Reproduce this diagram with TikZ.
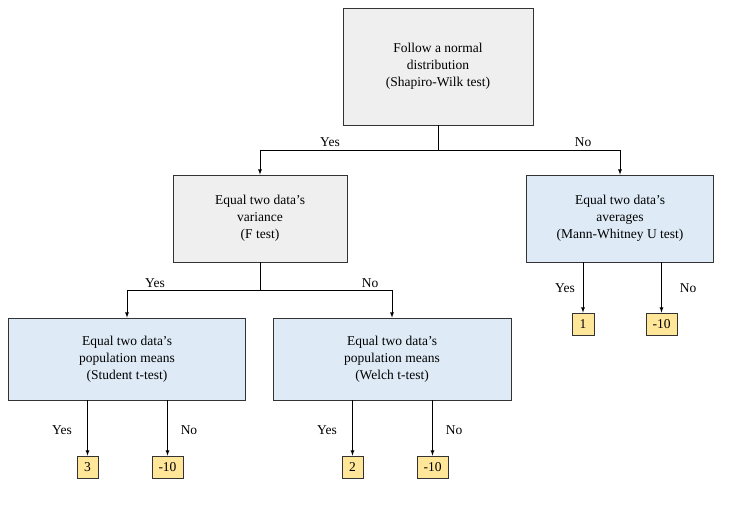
\documentclass[tikz,border=0pt]{standalone}
\usepackage{fontspec}
\setmainfont{Liberation Serif}
\definecolor{bfill}{HTML}{DEEBF7}
\definecolor{gfill}{HTML}{EFEFEF}
\definecolor{yfill}{HTML}{FFE699}
\begin{document}
\begin{tikzpicture}[x=1pt,y=-1pt,
  box/.style={draw=black!80,line width=0.8pt,align=center,font=\fontsize{13.5}{17}\selectfont,inner sep=0pt},
  gbox/.style={box,fill=gfill},
  bbox/.style={box,fill=bfill},
  ybox/.style={draw=black!80,line width=0.8pt,fill=yfill,font=\fontsize{13.5}{15}\selectfont,minimum height=22pt,inner sep=0pt},
  lab/.style={font=\fontsize{13.5}{15}\selectfont},
  arr/.style={-latex,line width=0.8pt},
  ln/.style={line width=0.8pt}]
\useasboundingbox (0,0) rectangle (744,505);
\node[gbox,minimum width=190pt,minimum height=117pt] (top) at (438,66.5) {Follow a normal\\distribution\\(Shapiro-Wilk test)};
\node[gbox,minimum width=174pt,minimum height=87pt] (f) at (260,218.5) {Equal two data's\\variance\\(F test)};
\node[bbox,minimum width=187pt,minimum height=87pt] (mw) at (620,218.5) {Equal two data's\\averages\\(Mann-Whitney U test)};
\node[bbox,minimum width=237pt,minimum height=82pt] (st) at (127,359) {Equal two data's\\population means\\(Student t-test)};
\node[bbox,minimum width=238pt,minimum height=82pt] (wt) at (392,359) {Equal two data's\\population means\\(Welch t-test)};
\coordinate (j1) at (438,150);
\coordinate (j2) at (260,290);
\draw[ln] (top.south) -- (j1);
\draw[arr] (j1) -| (f.north);
\draw[arr] (j1) -| (mw.north);
\node[lab] (y1) at (330,142) {Yes};
\node[lab] (n1) at (583,142) {No};
\draw[ln] (f.south) -- (j2);
\draw[arr] (j2) -| (st.north);
\draw[arr] (j2) -| (wt.north);
\node[lab] (y2) at (155,283) {Yes};
\node[lab] (n2) at (370,283) {No};
\node[ybox,minimum width=21pt] (a3) at (87.5,467) {3};
\node[ybox,minimum width=31pt] (a10) at (167.5,467) {-10};
\node[ybox,minimum width=21pt] (b2) at (352.5,467) {2};
\node[ybox,minimum width=31pt] (b10) at (432.5,467) {-10};
\node[ybox,minimum width=22pt] (c1) at (583,324) {1};
\node[ybox,minimum width=31pt] (c10) at (661.5,324) {-10};
\draw[arr] (a3.north |- st.south) -- (a3.north);
\draw[arr] (a10.north |- st.south) -- (a10.north);
\draw[arr] (b2.north |- wt.south) -- (b2.north);
\draw[arr] (b10.north |- wt.south) -- (b10.north);
\draw[arr] (c1.north |- mw.south) -- (c1.north);
\draw[arr] (c10.north |- mw.south) -- (c10.north);
\node[lab] (y3) at (62,430) {Yes};
\node[lab] (n3) at (189,430) {No};
\node[lab] (y4) at (327,430) {Yes};
\node[lab] (n4) at (454,430) {No};
\node[lab] (y5) at (565,288) {Yes};
\node[lab] (n5) at (688,288) {No};
\end{tikzpicture}
\end{document}
